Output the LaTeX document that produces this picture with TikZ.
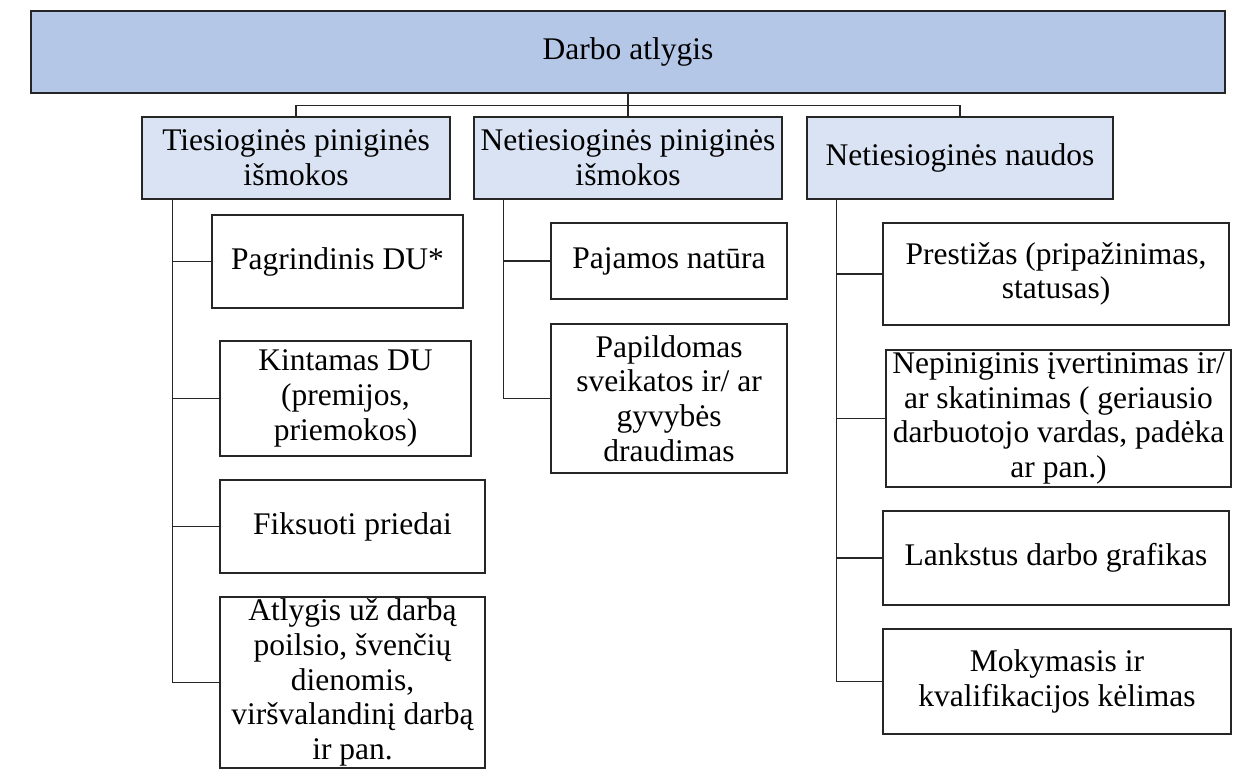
\documentclass[tikz,border=0pt]{standalone}
\usepackage{fontspec}
\setmainfont{Liberation Serif}
\definecolor{topblue}{HTML}{B4C7E7}
\definecolor{catblue}{HTML}{DAE3F3}

\begin{document}
\begin{tikzpicture}[x=1pt, y=-1pt,
    box/.style={shape=rectangle, draw=black!85, line width=1.4pt, align=center, inner sep=0pt, font=\fontsize{31.5}{34.6}\selectfont},
    topbox/.style={box, fill=topblue},
    catbox/.style={box, fill=catblue, minimum height=82pt},
    subbox/.style={box, fill=white},
    link/.style={draw=black!85, line width=1.4pt}]
    \useasboundingbox (0,0) rectangle (1233,776);

    % Draw top and category nodes
    \node[topbox, minimum width=1194pt, minimum height=82pt] (top) at (628,52) {Darbo atlygis};
    \node[catbox, minimum width=308pt] (cat1) at (296,158) {Tiesioginės piniginės\\išmokos};
    \node[catbox, minimum width=308pt] (cat2) at (628,158) {Netiesioginės piniginės\\išmokos};
    \node[catbox, minimum width=306pt] (cat3) at (960,158) {Netiesioginės naudos};

    % Draw nodes of the first column
    \node[subbox, minimum width=251pt, minimum height=93pt] (p1) at (337.5,261.5) {Pagrindinis DU*};
    \node[subbox, minimum width=251pt, minimum height=115pt] (p2) at (345.5,398.5) {Kintamas DU\\(premijos,\\priemokos)};
    \node[subbox, minimum width=265pt, minimum height=93pt] (p3) at (352.5,526.5) {Fiksuoti priedai};
    \node[subbox, minimum width=265pt, minimum height=171pt] (p4) at (352.5,682.5) {Atlygis už darbą\\poilsio, švenčių\\dienomis,\\viršvalandinį darbą\\ir pan.};

    % Draw nodes of the second column
    \node[subbox, minimum width=236pt, minimum height=76pt] (n1) at (669,261) {Pajamos natūra};
    \node[subbox, minimum width=236pt, minimum height=149pt] (n2) at (669,398.5) {Papildomas\\sveikatos ir/ ar\\gyvybės\\draudimas};

    % Draw nodes of the third column
    \node[subbox, minimum width=346pt, minimum height=102pt] (b1) at (1056,274) {Prestižas (pripažinimas,\\statusas)};
    \node[subbox, minimum width=345pt, minimum height=137pt] (b2) at (1058.5,418.5) {Nepiniginis įvertinimas ir/\\ar skatinimas ( geriausio\\darbuotojo vardas, padėka\\ar pan.)};
    \node[subbox, minimum width=346pt, minimum height=94pt] (b3) at (1056,558) {Lankstus darbo grafikas};
    \node[subbox, minimum width=348pt, minimum height=105pt] (b4) at (1057,681.5) {Mokymasis ir\\kvalifikacijos kėlimas};

    % Draw edges
    \coordinate (bus) at (0,105.5);
    \draw[link] (top.south) -- (cat2.north);
    \draw[link] (cat1.north) -- (cat1.north |- bus) -- (cat3.north |- bus) -- (cat3.north);

    \coordinate (t1) at ([xshift=31pt]cat1.south west);
    \coordinate (t2) at ([xshift=30pt]cat2.south west);
    \coordinate (t3) at ([xshift=30pt]cat3.south west);
    \draw[link] (t1) |- (p4.west);
    \draw[link] (t2) |- (n2.west);
    \draw[link] (t3) |- (b4.west);
    \foreach \n in {p1,p2,p3} {
        \draw[link] (t1 |- \n.west) -- (\n.west);
    }
    \draw[link] (t2 |- n1.west) -- (n1.west);
    \foreach \n in {b1,b2,b3} {
        \draw[link] (t3 |- \n.west) -- (\n.west);
    }

\end{tikzpicture}
\end{document}
